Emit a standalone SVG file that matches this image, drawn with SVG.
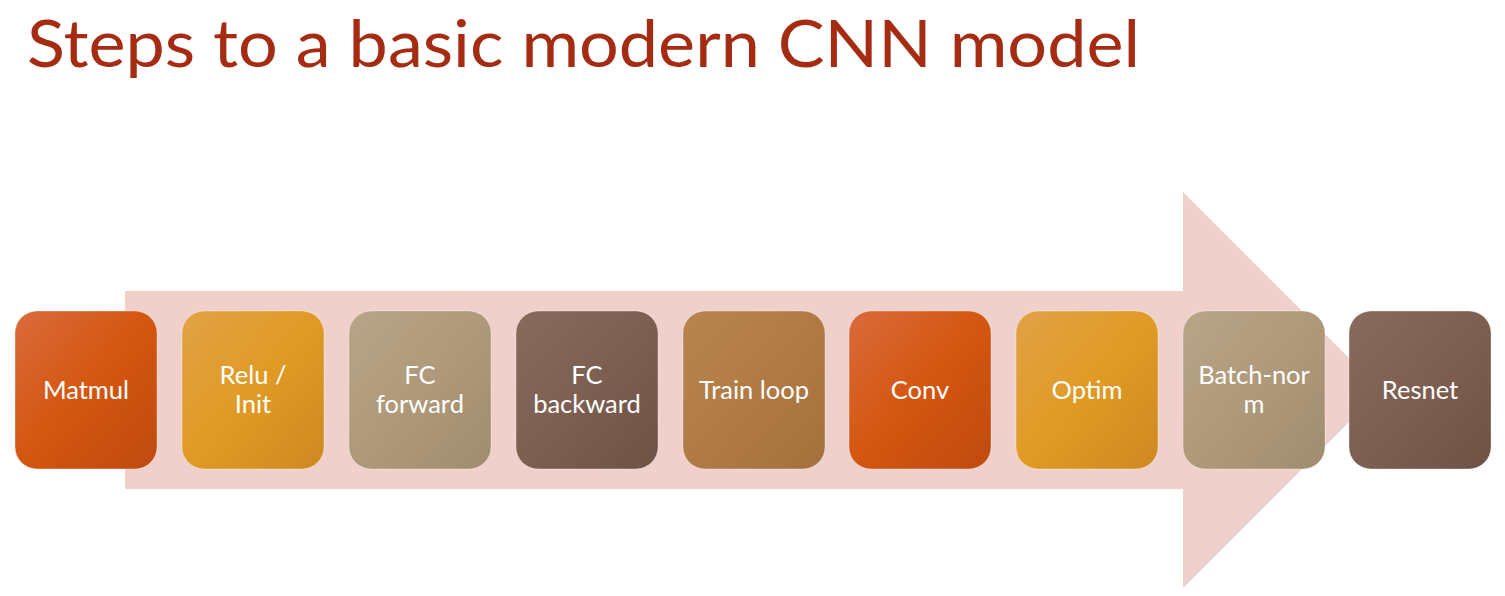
<svg xmlns="http://www.w3.org/2000/svg" width="1505" height="596" viewBox="0 0 1505 596">
<defs>
<linearGradient id="gOrange" x1="0" y1="0" x2="1" y2="1"><stop offset="0" stop-color="#DA6B3C"/><stop offset="0.5" stop-color="#D4560F"/><stop offset="1" stop-color="#BF4A10"/></linearGradient>
<linearGradient id="gGold" x1="0" y1="0" x2="1" y2="1"><stop offset="0" stop-color="#E2A246"/><stop offset="0.5" stop-color="#E09A24"/><stop offset="1" stop-color="#CD8922"/></linearGradient>
<linearGradient id="gTan" x1="0" y1="0" x2="1" y2="1"><stop offset="0" stop-color="#B8A487"/><stop offset="0.5" stop-color="#AF997A"/><stop offset="1" stop-color="#9F8C6E"/></linearGradient>
<linearGradient id="gBrown" x1="0" y1="0" x2="1" y2="1"><stop offset="0" stop-color="#886B5D"/><stop offset="0.5" stop-color="#7D5F51"/><stop offset="1" stop-color="#6E5246"/></linearGradient>
<linearGradient id="gCaramel" x1="0" y1="0" x2="1" y2="1"><stop offset="0" stop-color="#B8854F"/><stop offset="0.5" stop-color="#B17A44"/><stop offset="1" stop-color="#A3713D"/></linearGradient>
</defs>
<style>
.title{font-family:Lato,"Liberation Sans",sans-serif;font-size:65px;fill:#A52C12;}
.box{stroke:#ffffff;stroke-opacity:0.35;stroke-width:1;}
.lbl{font-family:Lato,"Liberation Sans",sans-serif;font-size:25.5px;fill:#ffffff;text-anchor:middle;}
</style>
<rect width="1505" height="596" fill="#ffffff"/>
<text class="title" x="27" y="67" textLength="1113" lengthAdjust="spacingAndGlyphs">Steps to a basic modern CNN model</text>
<g id="connectors">
<polygon id="arrow" points="125,291 1183,291 1183,192 1381,390 1183,588 1183,489 125,489" fill="#F0D0CB"/>
</g>
<g id="n1"><rect class="box" x="15" y="311" width="142" height="158" rx="22" fill="url(#gOrange)"/><text class="lbl" x="86" y="399">Matmul</text></g>
<g id="n2"><rect class="box" x="182" y="311" width="142" height="158" rx="22" fill="url(#gGold)"/><text class="lbl" x="253" y="384">Relu /</text><text class="lbl" x="253" y="413">Init</text></g>
<g id="n3"><rect class="box" x="349" y="311" width="142" height="158" rx="22" fill="url(#gTan)"/><text class="lbl" x="420" y="384">FC</text><text class="lbl" x="420" y="413">forward</text></g>
<g id="n4"><rect class="box" x="516" y="311" width="142" height="158" rx="22" fill="url(#gBrown)"/><text class="lbl" x="587" y="384">FC</text><text class="lbl" x="587" y="413">backward</text></g>
<g id="n5"><rect class="box" x="683" y="311" width="142" height="158" rx="22" fill="url(#gCaramel)"/><text class="lbl" x="754" y="399">Train loop</text></g>
<g id="n6"><rect class="box" x="849" y="311" width="142" height="158" rx="22" fill="url(#gOrange)"/><text class="lbl" x="920" y="399">Conv</text></g>
<g id="n7"><rect class="box" x="1016" y="311" width="142" height="158" rx="22" fill="url(#gGold)"/><text class="lbl" x="1087" y="399">Optim</text></g>
<g id="n8"><rect class="box" x="1183" y="311" width="142" height="158" rx="22" fill="url(#gTan)"/><text class="lbl" x="1254" y="384">Batch-nor</text><text class="lbl" x="1254" y="413">m</text></g>
<g id="n9"><rect class="box" x="1349" y="311" width="142" height="158" rx="22" fill="url(#gBrown)"/><text class="lbl" x="1420" y="399">Resnet</text></g>
</svg>
